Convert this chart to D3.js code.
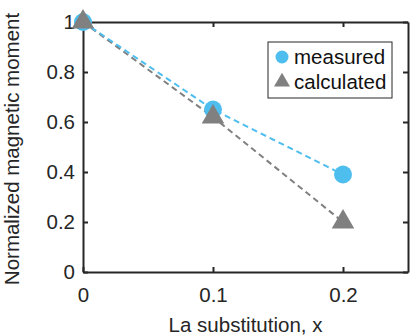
<!DOCTYPE html>
<html><head><meta charset="utf-8">
<script src="https://d3js.org/d3.v7.min.js"></script>
<style>body{margin:0;background:#fff}svg{display:block}</style>
</head><body>
<script>
const xValues = [0, 0.1, 0.2];
const measured = [1.0, 0.65, 0.39];
const calculated = [1.0, 0.62, 0.2];
const xTicks = [0, 0.1, 0.2];
const yTicks = [0, 0.2, 0.4, 0.6, 0.8, 1];
const seriesNames = ["measured", "calculated"];

const W = 419, H = 336;
const m = {left: 83, right: 11, top: 22, bottom: 64};
const FONT = "'Liberation Sans', Arial, sans-serif";
const svg = d3.select("body").append("svg").attr("width", W).attr("height", H)
  .style("font-family", FONT);
const x = d3.scaleLinear().domain([0, 0.25]).range([m.left, W - m.right]);
const y = d3.scaleLinear().domain([0, 1]).range([H - m.bottom, m.top]);
const axCol = "#262626", blue = "#4DBEEE", gray = "#808080";

const fmt = d => d === 0 ? "0" : d === 1 ? "1" : String(d);
const gB = svg.append("g").attr("transform", `translate(0,${y(0)})`)
  .call(d3.axisBottom(x).tickValues(xTicks).tickFormat(fmt).tickSizeInner(-5).tickSizeOuter(0).tickPadding(15));
const gT = svg.append("g").attr("transform", `translate(0,${y(1)})`)
  .call(d3.axisTop(x).tickValues(xTicks).tickFormat("").tickSizeInner(-5).tickSizeOuter(0));
const gL = svg.append("g").attr("transform", `translate(${x(0)},0)`)
  .call(d3.axisLeft(y).tickValues(yTicks).tickFormat(fmt).tickSizeInner(-5).tickSizeOuter(0).tickPadding(8));
const gR = svg.append("g").attr("transform", `translate(${x(0.25)},0)`)
  .call(d3.axisRight(y).tickValues(yTicks).tickFormat("").tickSizeInner(-5).tickSizeOuter(0));
[gB, gT, gL, gR].forEach(g => {
  g.select(".domain").attr("stroke", axCol).attr("stroke-width", 2);
  g.selectAll(".tick line").attr("stroke", axCol).attr("stroke-width", 2);
  g.selectAll("text").attr("fill", "#262626").style("font-size", "20.5px").style("font-family", FONT);
});
gB.selectAll(".tick text").attr("dy", "0.71em");

const line = d3.line().x((d, i) => x(xValues[i])).y(d => y(d));
svg.append("path").datum(calculated).attr("d", line).attr("fill", "none")
  .attr("stroke", gray).attr("stroke-width", 2).attr("stroke-dasharray", "6,4");
svg.append("path").datum(measured).attr("d", line).attr("fill", "none")
  .attr("stroke", blue).attr("stroke-width", 2).attr("stroke-dasharray", "6,4");

svg.selectAll("circle.m").data(measured).enter().append("circle")
  .attr("cx", (d, i) => x(xValues[i])).attr("cy", d => y(d)).attr("r", 9).attr("fill", blue);
const tri = d3.symbol().type(d3.symbolTriangle).size(220);
svg.selectAll("path.c").data(calculated).enter().append("path")
  .attr("d", tri).attr("transform", (d, i) => `translate(${x(xValues[i])},${y(d)})`).attr("fill", gray);

// legend
const lg = svg.append("g");
lg.append("rect").attr("x", 268).attr("y", 42).attr("width", 124).attr("height", 56)
  .attr("fill", "#fff").attr("stroke", axCol).attr("stroke-width", 1);
lg.append("circle").attr("cx", 282).attr("cy", 57).attr("r", 6.5).attr("fill", blue);
lg.append("path").attr("d", d3.symbol().type(d3.symbolTriangle).size(110)).attr("transform", "translate(282,82)").attr("fill", gray);
lg.selectAll("text").data(seriesNames).enter().append("text")
  .attr("x", 294).attr("y", (d, i) => 57 + i * 25).attr("dy", "0.35em")
  .style("font-size", "20.5px").attr("fill", "#111").text(d => d);

svg.append("text").attr("x", (x(0) + x(0.25)) / 2).attr("y", 331.5)
  .attr("text-anchor", "middle").style("font-size", "20.5px").attr("fill", "#262626").text("La substitution, x");
svg.append("text").attr("transform", `translate(12,${(y(0) + y(1)) / 2 + 2}) rotate(-90)`).attr("dy", "0.35em")
  .attr("text-anchor", "middle").style("font-size", "20.5px").attr("fill", "#262626").text("Normalized magnetic moment");
</script>
</body></html>
